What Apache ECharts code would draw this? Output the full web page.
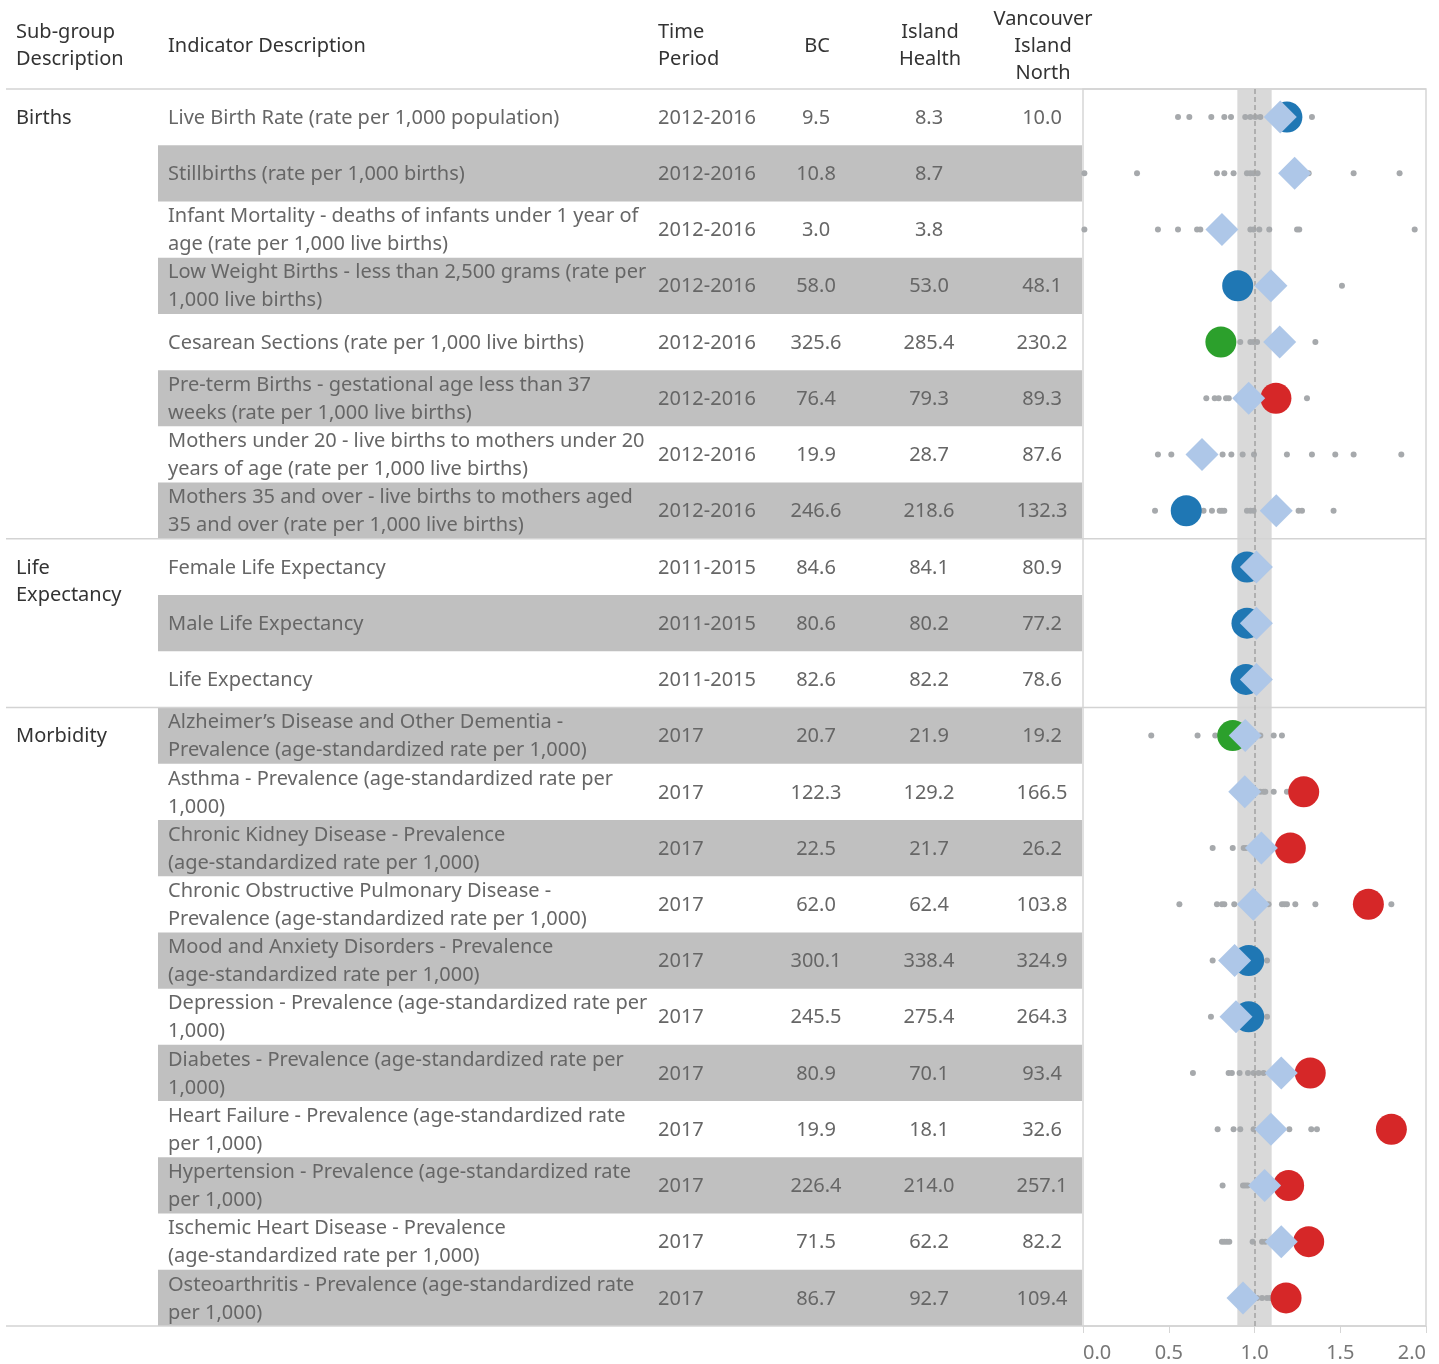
<!DOCTYPE html>
<html>
<head>
<meta charset="utf-8">
<title>Community health indicators</title>
<script src="https://cdn.jsdelivr.net/npm/echarts@6/dist/echarts.min.js"></script>
<style>
  html, body { margin: 0; padding: 0; background: #fff; }
  #main { width: 1439px; height: 1364px; }
</style>
</head>
<body>
<div id="main"></div>
<script>
// ---- data ----
var groups = ['Births', 'Life\nExpectancy', 'Morbidity'];
var groupStart = [0, 8, 11];
var groupEnd = [7, 10, 21];

var indicators = [
    'Live Birth Rate (rate per 1,000 population)',
    'Stillbirths (rate per 1,000 births)',
    'Infant Mortality - deaths of infants under 1 year of\nage (rate per 1,000 live births)',
    'Low Weight Births - less than 2,500 grams (rate per\n1,000 live births)',
    'Cesarean Sections (rate per 1,000 live births)',
    'Pre-term Births - gestational age less than 37\nweeks (rate per 1,000 live births)',
    'Mothers under 20 - live births to mothers under 20\nyears of age (rate per 1,000 live births)',
    'Mothers 35 and over - live births to mothers aged\n35 and over (rate per 1,000 live births)',
    'Female Life Expectancy',
    'Male Life Expectancy',
    'Life Expectancy',
    'Alzheimer\u2019s Disease and Other Dementia -\nPrevalence (age-standardized rate per 1,000)',
    'Asthma - Prevalence (age-standardized rate per\n1,000)',
    'Chronic Kidney Disease - Prevalence\n(age-standardized rate per 1,000)',
    'Chronic Obstructive Pulmonary Disease -\nPrevalence (age-standardized rate per 1,000)',
    'Mood and Anxiety Disorders - Prevalence\n(age-standardized rate per 1,000)',
    'Depression - Prevalence (age-standardized rate per\n1,000)',
    'Diabetes - Prevalence (age-standardized rate per\n1,000)',
    'Heart Failure - Prevalence (age-standardized rate\nper 1,000)',
    'Hypertension - Prevalence (age-standardized rate\nper 1,000)',
    'Ischemic Heart Disease - Prevalence\n(age-standardized rate per 1,000)',
    'Osteoarthritis - Prevalence (age-standardized rate\nper 1,000)'
];

var periods = ['2012-2016', '2012-2016', '2012-2016', '2012-2016', '2012-2016', '2012-2016', '2012-2016', '2012-2016',
    '2011-2015', '2011-2015', '2011-2015',
    '2017', '2017', '2017', '2017', '2017', '2017', '2017', '2017', '2017', '2017', '2017'];

var bcValues = [9.5, 10.8, 3.0, 58.0, 325.6, 76.4, 19.9, 246.6, 84.6, 80.6, 82.6,
    20.7, 122.3, 22.5, 62.0, 300.1, 245.5, 80.9, 19.9, 226.4, 71.5, 86.7];
var ihValues = [8.3, 8.7, 3.8, 53.0, 285.4, 79.3, 28.7, 218.6, 84.1, 80.2, 82.2,
    21.9, 129.2, 21.7, 62.4, 338.4, 275.4, 70.1, 18.1, 214.0, 62.2, 92.7];
var vinValues = [10.0, null, null, 48.1, 230.2, 89.3, 87.6, 132.3, 80.9, 77.2, 78.6,
    19.2, 166.5, 26.2, 103.8, 324.9, 264.3, 93.4, 32.6, 257.1, 82.2, 109.4];

// ratio to BC shown on the dot plot
var ihRatio = [1.150, 1.234, 0.810, 1.096, 1.147, 0.966, 0.694, 1.127, 1.011, 1.011, 1.011,
    0.946, 0.943, 1.040, 0.993, 0.884, 0.892, 1.156, 1.096, 1.059, 1.156, 0.933];
var vinRatio = [1.189, null, null, 0.902, 0.804, 1.125, null, 0.602, 0.956, 0.956, 0.950,
    0.873, 1.287, 1.209, 1.664, 0.966, 0.966, 1.325, 1.798, 1.199, 1.316, 1.184];
var vinFlag = ['neutral', null, null, 'neutral', 'better', 'worse', null, 'neutral', 'neutral', 'neutral', 'neutral',
    'better', 'worse', 'worse', 'worse', 'neutral', 'neutral', 'worse', 'worse', 'worse', 'worse', 'worse'];

// other local areas (grey dots)
var peerRatios = [
    [0.554, 0.620, 0.748, 0.824, 0.863, 0.946, 0.976, 1.005, 1.034, 1.335],
    [0.008, 0.315, 0.781, 0.824, 0.878, 0.956, 0.976, 0.995, 1.018, 1.316, 1.578, 1.846],
    [0.008, 0.437, 0.554, 0.665, 0.684, 0.976, 0.995, 1.028, 1.086, 1.248, 1.261, 1.934],
    [1.510],
    [0.917, 0.976, 0.995, 1.015, 1.355],
    [0.719, 0.768, 0.791, 0.834, 0.850, 1.306],
    [0.437, 0.515, 0.814, 0.865, 0.931, 0.997, 1.189, 1.335, 1.471, 1.578, 1.856],
    [0.420, 0.703, 0.752, 0.797, 0.810, 0.824, 0.956, 0.976, 0.995, 1.257, 1.277, 1.461],
    [],
    [],
    [],
    [0.398, 0.668, 0.771, 1.034, 1.112, 1.160],
    [1.034, 1.053, 1.063, 1.112, 1.189],
    [0.756, 0.873, 0.937, 0.950],
    [0.562, 0.781, 0.810, 0.824, 0.882, 1.082, 1.160, 1.174, 1.189, 1.238, 1.355, 1.798],
    [0.756, 1.073],
    [0.746, 1.073],
    [0.641, 0.849, 0.868, 0.913, 0.962, 0.995, 1.024, 1.053],
    [0.785, 0.878, 0.917, 0.995, 1.203, 1.331, 1.364],
    [0.814, 0.933, 0.946, 0.960],
    [0.810, 0.824, 0.839, 0.853, 0.989, 1.044, 1.063],
    [1.015, 1.044, 1.073, 1.092]
];

var bandRange = [0.9, 1.1];

var FONT = '"Noto Sans", Lato, sans-serif';
var flagColors = { neutral: '#1f77b4', better: '#2ca02c', worse: '#d62728' };

// ---- build series data ----
var rowNames = indicators.map(function (d, i) { return String(i); });
var rowData = indicators.map(function (d, i) { return [0, i]; });
var groupData = groups.map(function (g, k) { return [0, groupStart[k], groupEnd[k]]; });

var dotData = [];
peerRatios.forEach(function (list, i) {
    list.forEach(function (v) { dotData.push([v, i]); });
});
var ihData = ihRatio.map(function (v, i) { return [v, i]; });
var vinData = [];
vinRatio.forEach(function (v, i) {
    if (v == null) return;
    vinData.push({ value: [v, i], itemStyle: { color: flagColors[vinFlag[i]], opacity: 1 } });
});

function fmt(v) { return v == null ? '' : v.toFixed(1); }

function renderRow(params, api) {
    var i = api.value(1);
    var c = api.coord([0, i]);
    var h = api.size([0, 1])[1];
    var x0 = c[0], yc = c[1];
    var ty = yc + 1;
    var kids = [];
    if (i % 2 === 1) {
        kids.push({ type: 'rect', shape: { x: x0 + 152, y: yc - h / 2, width: 924, height: h },
            style: { fill: '#c0c0c0' } });
    }
    var base = { fill: '#666', font: '20px ' + FONT, verticalAlign: 'middle', lineHeight: 28 };
    kids.push({ type: 'text', style: Object.assign({}, base, { x: x0 + 162, y: ty, text: indicators[i], align: 'left' }) });
    kids.push({ type: 'text', style: Object.assign({}, base, { x: x0 + 652, y: ty, text: periods[i], align: 'left' }) });
    kids.push({ type: 'text', style: Object.assign({}, base, { x: x0 + 810, y: ty, text: fmt(bcValues[i]), align: 'center' }) });
    kids.push({ type: 'text', style: Object.assign({}, base, { x: x0 + 923, y: ty, text: fmt(ihValues[i]), align: 'center' }) });
    kids.push({ type: 'text', style: Object.assign({}, base, { x: x0 + 1036, y: ty, text: fmt(vinValues[i]), align: 'center' }) });
    return { type: 'group', children: kids };
}

function renderGroup(params, api) {
    var k = params.dataIndex;
    var s = api.value(1), e = api.value(2);
    var c = api.coord([0, s]);
    var h = api.size([0, 1])[1];
    var top = c[1] - h / 2;
    var kids = [
        { type: 'line', shape: { x1: c[0], y1: top, x2: 1426, y2: top },
            style: { stroke: '#d3d3d3', lineWidth: 1.5 } },
        { type: 'text', style: { x: c[0] + 10, y: c[1] - 12.5, text: groups[k], fill: '#333',
            font: '20px ' + FONT, lineHeight: 27, verticalAlign: 'top', align: 'left' } }
    ];
    if (k === groups.length - 1) {
        var bottom = api.coord([0, e])[1] + h / 2;
        kids.push({ type: 'line', shape: { x1: c[0], y1: bottom, x2: 1426, y2: bottom },
            style: { stroke: '#d3d3d3', lineWidth: 1.5 } });
    }
    return { type: 'group', children: kids };
}

var headStyle = { fill: '#333', font: '20px ' + FONT, lineHeight: 27, verticalAlign: 'middle' };
function head(x, text, align) {
    return { type: 'text', style: Object.assign({}, headStyle, { x: x, y: 46, text: text, align: align }) };
}

var myChart = echarts.init(document.getElementById('main'), null, { renderer: 'canvas' });

var option = {
    animation: false,
    backgroundColor: '#fff',
    grid: [
        { left: 1083, right: 13, top: 89, bottom: 38, show: true, borderColor: '#d6d6d6', borderWidth: 1.5 },
        { left: 6, width: 1076, top: 89, bottom: 38 }
    ],
    xAxis: [
        {
            gridIndex: 0, type: 'value', min: 0, max: 2, interval: 0.5,
            axisLine: { show: false },
            axisTick: { show: true, length: 7, lineStyle: { color: '#d6d6d6' } },
            splitLine: { show: false },
            axisLabel: {
                color: '#777', fontSize: 20, fontFamily: FONT, margin: 17,
                alignMinLabel: 'left', alignMaxLabel: 'right',
                formatter: function (v) { return v.toFixed(1); }
            }
        },
        { gridIndex: 1, type: 'value', min: 0, max: 1076, show: false }
    ],
    yAxis: [
        { gridIndex: 0, type: 'category', data: rowNames, inverse: true, show: false },
        { gridIndex: 1, type: 'category', data: rowNames, inverse: true, show: false }
    ],
    graphic: [
        head(16, 'Sub-group\nDescription', 'left'),
        head(168, 'Indicator Description', 'left'),
        head(658, 'Time\nPeriod', 'left'),
        head(817, 'BC', 'center'),
        head(930, 'Island\nHealth', 'center'),
        head(1043, 'Vancouver\nIsland\nNorth', 'center')
    ],
    series: [
        {
            type: 'custom', xAxisIndex: 1, yAxisIndex: 1, z: 1,
            renderItem: renderRow, data: rowData, clip: false
        },
        {
            type: 'scatter', xAxisIndex: 0, yAxisIndex: 0, z: 1, data: [],
            markArea: {
                silent: true,
                itemStyle: { color: '#d9d9d9', opacity: 1 },
                data: [[{ xAxis: bandRange[0] }, { xAxis: bandRange[1] }]]
            }
        },
        {
            type: 'custom', xAxisIndex: 1, yAxisIndex: 1, z: 3,
            renderItem: renderGroup, data: groupData, clip: false
        },
        {
            type: 'scatter', name: 'Other areas', xAxisIndex: 0, yAxisIndex: 0, z: 4,
            symbol: 'circle', symbolSize: 6, data: dotData,
            itemStyle: { color: '#a6a9ac', opacity: 1 }
        },
        {
            type: 'scatter', name: 'Vancouver Island North', xAxisIndex: 0, yAxisIndex: 0, z: 5,
            symbol: 'circle', symbolSize: 31, data: vinData,
            itemStyle: { opacity: 1 }
        },
        {
            type: 'scatter', name: 'Island Health', xAxisIndex: 0, yAxisIndex: 0, z: 6,
            symbol: 'diamond', symbolSize: 33, data: ihData,
            itemStyle: { color: '#aec7e8', opacity: 1 }
        },
        {
            type: 'scatter', xAxisIndex: 0, yAxisIndex: 0, z: 7, data: [],
            markLine: {
                silent: true, symbol: 'none',
                label: { show: false },
                lineStyle: { color: '#a3a3a3', width: 1.5, type: [5, 3] },
                data: [{ xAxis: 1 }]
            }
        }
    ]
};

myChart.setOption(option);
window.addEventListener('resize', myChart.resize);
</script>
</body>
</html>
